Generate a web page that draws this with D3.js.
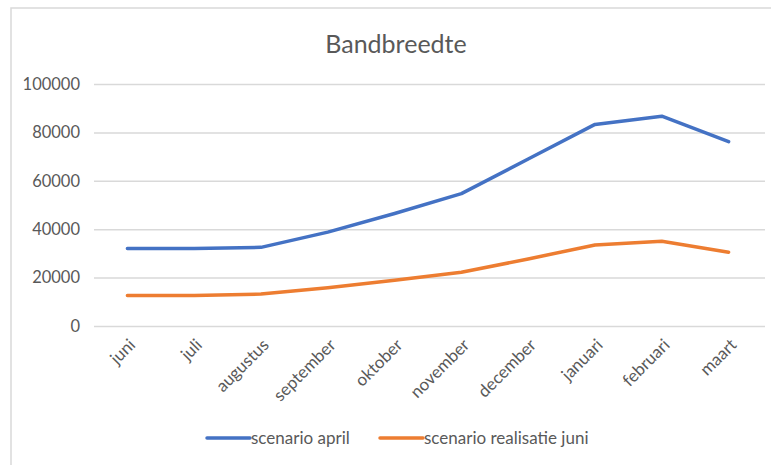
<!DOCTYPE html>
<html>
<head>
<meta charset="utf-8">
<script src="https://cdn.jsdelivr.net/npm/d3@7"></script>
<style>
  body { margin: 0; background: #fff; }
  text { font-family: Lato, "Noto Sans", sans-serif; fill: #595959; }
</style>
</head>
<body>
<svg id="chart"></svg>
<script>
var months = ['juni', 'juli', 'augustus', 'september', 'oktober', 'november', 'december', 'januari', 'februari', 'maart'];
var scenarioApril = [32000, 32000, 32500, 38800, 46500, 54700, 69000, 83300, 86700, 76200];
var scenarioJuni = [12600, 12600, 13200, 15800, 18900, 22200, 27700, 33500, 35000, 30500];
var yTicks = [0, 20000, 40000, 60000, 80000, 100000];
var seriesNames = ['scenario april', 'scenario realisatie juni'];

var colors = ['#4472C4', '#ED7D31'];

var W = 771, H = 465;
var margin = { top: 84, right: 9, bottom: 139, left: 94 };
var width = W - margin.left - margin.right;
var height = H - margin.top - margin.bottom;

var svg = d3.select('#chart')
  .attr('width', W)
  .attr('height', H);

// outer chart border
svg.append('rect')
  .attr('x', 11).attr('y', 8)
  .attr('width', W + 10).attr('height', H + 10)
  .attr('fill', 'none')
  .attr('stroke', '#d9d9d9')
  .attr('stroke-width', 1.5);

svg.append('text')
  .attr('x', 396)
  .attr('y', 53)
  .attr('text-anchor', 'middle')
  .attr('font-size', '25px')
  .text('Bandbreedte');

var chart = svg.append('g')
  .attr('transform', `translate(${ margin.left }, ${ margin.top })`);

var x = d3.scaleBand()
  .domain(months)
  .range([0, width]);

var y = d3.scaleLinear()
  .domain([0, 100000])
  .range([height, 0]);

// gridlines + y labels
var yAxis = d3.axisLeft(y)
  .tickValues(yTicks)
  .tickSize(-width - 3)
  .tickPadding(14)
  .tickFormat(d3.format('d'));

chart.append('g')
  .attr('class', 'axis y')
  .call(yAxis)
  .call(g => g.select('.domain').remove())
  .call(g => g.selectAll('line').attr('stroke', '#d9d9d9').attr('stroke-width', 1.5))
  .call(g => g.selectAll('text').attr('font-size', '16.5px').attr('fill', '#595959')
    .style('font-family', 'Lato, "Noto Sans", sans-serif'));

var xAxis = d3.axisBottom(x).tickSize(0).tickPadding(0);

chart.append('g')
  .attr('class', 'axis x')
  .attr('transform', `translate(0, ${ height })`)
  .call(xAxis)
  .call(g => g.select('.domain').remove())
  .call(g => g.selectAll('text')
    .attr('font-size', '17px')
    .attr('fill', '#595959')
    .style('font-family', 'Lato, "Noto Sans", sans-serif')
    .attr('text-anchor', 'end')
    .attr('dy', 0)
    .attr('transform', 'translate(9, 20) rotate(-45)'));

var line = d3.line()
  .x((d, i) => x(months[i]) + x.bandwidth() / 2)
  .y(d => y(d));

[scenarioApril, scenarioJuni].forEach(function (s, i) {
  chart.append('path')
    .datum(s)
    .attr('fill', 'none')
    .attr('stroke', colors[i])
    .attr('stroke-width', 3.5)
    .attr('stroke-linejoin', 'round')
    .attr('stroke-linecap', 'round')
    .attr('d', line);
});

// legend
var legendX = [207, 380];
var legend = svg.append('g');
seriesNames.forEach(function (name, i) {
  legend.append('line')
    .attr('x1', legendX[i]).attr('x2', legendX[i] + 43)
    .attr('y1', 438).attr('y2', 438)
    .attr('stroke', colors[i])
    .attr('stroke-width', 3.5)
    .attr('stroke-linecap', 'round');
  legend.append('text')
    .attr('x', legendX[i] + 44)
    .attr('y', 444)
    .attr('font-size', '17px')
    .text(name);
});
</script>
</body>
</html>
